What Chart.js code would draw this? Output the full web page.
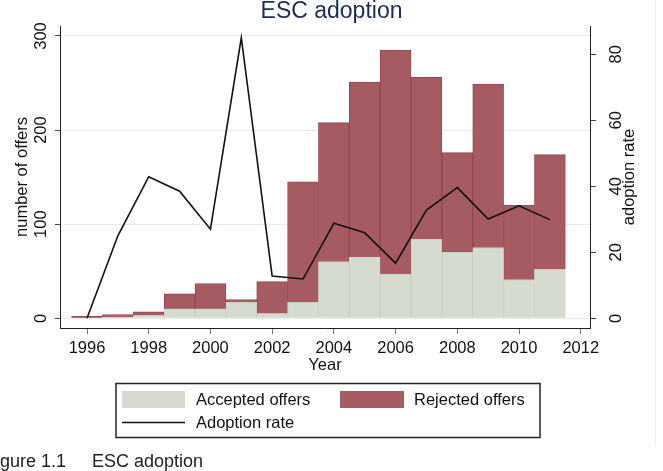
<!DOCTYPE html>
<html>
<head>
<meta charset="utf-8">
<script src="https://cdn.jsdelivr.net/npm/chart.js@4.4.1/dist/chart.umd.min.js"></script>
<style>
  html, body { margin: 0; padding: 0; background: #fff; }
  #wrap { position: relative; width: 663px; height: 471px; overflow: hidden; }
  #caption { position: absolute; top: 451px; left: 0; font: 18px "Liberation Sans", Arial, sans-serif; color: #222; white-space: nowrap; }
  #caption .num { position: absolute; left: -15px; }
  #caption .txt { position: absolute; left: 92px; }
  #edge { position: absolute; left: 655px; top: 0; width: 1px; height: 445px; background: #ececec; }
</style>
</head>
<body>
<div id="wrap">
  <canvas id="chart" width="663" height="471"></canvas>
  <div id="edge"></div>
  <div id="caption"><span class="num">Figure 1.1</span><span class="txt">ESC adoption</span></div>
</div>
<script>
// data
const years = [1996, 1997, 1998, 1999, 2000, 2001, 2002, 2003, 2004, 2005, 2006, 2007, 2008, 2009, 2010, 2011];
const accepted = [0, 1, 3, 10, 10, 17, 5, 17, 60, 65, 47, 84, 70, 75, 41, 52];
const rejected = [2, 3, 4, 16, 27, 3, 34, 128, 148, 186, 238, 172, 106, 174, 79, 122];
const adoptionRate = [0, 25, 42.9, 38.5, 27, 85, 12.8, 11.9, 28.8, 25.9, 16.7, 32.8, 39.6, 30.1, 34.1, 29.9];

const xTicks = [1996, 1998, 2000, 2002, 2004, 2006, 2008, 2010, 2012];
const offerTicks = [0, 100, 200, 300];
const rateTicks = [0, 20, 40, 60, 80];

const FONT = '"Liberation Sans", Arial, sans-serif';
const GREEN = '#d5dccf';
const RED = '#a65b62';

const pts = arr => years.map((y, i) => ({ x: y, y: arr[i] }));
const fixTicks = list => scale => { scale.ticks = list.map(v => ({ value: v })); };

// Stata style legend box below the plot
const boxLegend = {
  id: 'boxLegend',
  afterDraw(chart) {
    const ctx = chart.ctx;
    const ds = chart.data.datasets;
    const acc = ds.find(d => d.label === 'Accepted offers');
    const rej = ds.find(d => d.label === 'Rejected offers');
    const line = ds.find(d => d.label === 'Adoption rate');
    ctx.save();
    ctx.strokeStyle = '#222';
    ctx.lineWidth = 1.5;
    ctx.strokeRect(116, 383.5, 424, 54);
    ctx.fillStyle = acc.backgroundColor;
    ctx.fillRect(122, 391, 63, 17);
    ctx.fillStyle = rej.backgroundColor;
    ctx.fillRect(340, 391, 64, 17);
    ctx.strokeStyle = line.borderColor;
    ctx.lineWidth = 1.5;
    ctx.beginPath();
    ctx.moveTo(122, 422.5);
    ctx.lineTo(185, 422.5);
    ctx.stroke();
    ctx.fillStyle = '#111';
    ctx.font = '16.5px ' + FONT;
    ctx.textBaseline = 'middle';
    ctx.fillText(acc.label, 196, 400);
    ctx.fillText(rej.label, 414, 400);
    ctx.fillText(line.label, 196, 423);
    ctx.restore();
  }
};

// right axis title reads bottom to top, like the left one
const rightTitle = {
  id: 'rightTitle',
  afterDraw(chart) {
    const ctx = chart.ctx;
    const a = chart.chartArea;
    ctx.save();
    ctx.translate(629, (a.top + a.bottom) / 2);
    ctx.rotate(-Math.PI / 2);
    ctx.fillStyle = '#111';
    ctx.font = '16.5px ' + FONT;
    ctx.textAlign = 'center';
    ctx.textBaseline = 'middle';
    ctx.fillText('adoption rate', 0, 0);
    ctx.restore();
  }
};

new Chart(document.getElementById('chart'), {
  type: 'bar',
  data: {
    datasets: [
      {
        type: 'line',
        label: 'Adoption rate',
        data: pts(adoptionRate),
        yAxisID: 'y1',
        borderColor: '#111',
        borderWidth: 1.6,
        pointRadius: 0,
        tension: 0,
        order: 0
      },
      {
        label: 'Accepted offers',
        data: pts(accepted),
        backgroundColor: GREEN,
        borderColor: '#c9d0c3',
        borderWidth: 1,
        stack: 'offers',
        order: 1
      },
      {
        label: 'Rejected offers',
        data: pts(rejected),
        backgroundColor: RED,
        borderColor: '#94474f',
        borderWidth: 1,
        stack: 'offers',
        order: 2
      }
    ]
  },
  options: {
    responsive: false,
    animation: false,
    layout: { padding: { left: 0, right: 0, top: 0, bottom: 95.4 } },
    datasets: { bar: { barPercentage: 1, categoryPercentage: 1 } },
    plugins: {
      legend: { display: false },
      tooltip: { enabled: false },
      title: {
        display: true,
        text: 'ESC adoption',
        color: '#1d2b57',
        font: { family: FONT, size: 23, weight: 'normal', lineHeight: 1 },
        padding: { top: 0, bottom: 3 }
      }
    },
    scales: {
      x: {
        type: 'linear',
        stacked: true,
        offset: false,
        min: 1995.125,
        max: 2012.3,
        afterBuildTicks: fixTicks(xTicks),
        afterFit: s => { s.height = 47.6; },
        grid: { display: true, drawOnChartArea: false, offset: false, tickLength: 6, tickColor: '#777' },
        border: { color: '#222', width: 1 },
        ticks: { color: '#111', font: { family: FONT, size: 16.5 }, padding: 5, maxRotation: 0, callback: v => String(v) },
        title: { display: true, text: 'Year', color: '#111', font: { family: FONT, size: 16.5 }, padding: 0 }
      },
      y: {
        position: 'left',
        stacked: true,
        min: -10.3,
        max: 310.6,
        afterBuildTicks: fixTicks(offerTicks),
        afterFit: s => { s.width = 60; },
        grid: { color: '#e6ebeb', tickLength: 5, tickColor: '#444', lineWidth: 1 },
        border: { color: '#222', width: 1 },
        ticks: { color: '#111', font: { family: FONT, size: 16.5 }, minRotation: 90, maxRotation: 90, crossAlign: 'center', padding: 0, callback: v => String(v) },
        title: { display: true, text: 'number of offers', color: '#111', font: { family: FONT, size: 16.5 }, padding: { top: 13 } }
      },
      y1: {
        position: 'right',
        min: -2.937,
        max: 88.56,
        afterBuildTicks: fixTicks(rateTicks),
        afterFit: s => { s.width = 73; },
        grid: { drawOnChartArea: false, tickLength: 6, tickColor: '#444' },
        border: { color: '#222', width: 1 },
        ticks: { color: '#111', font: { family: FONT, size: 16.5 }, minRotation: 90, maxRotation: 90, crossAlign: 'center', padding: 11, callback: v => String(v) }
      }
    }
  },
  plugins: [boxLegend, rightTitle]
});
</script>
</body>
</html>
